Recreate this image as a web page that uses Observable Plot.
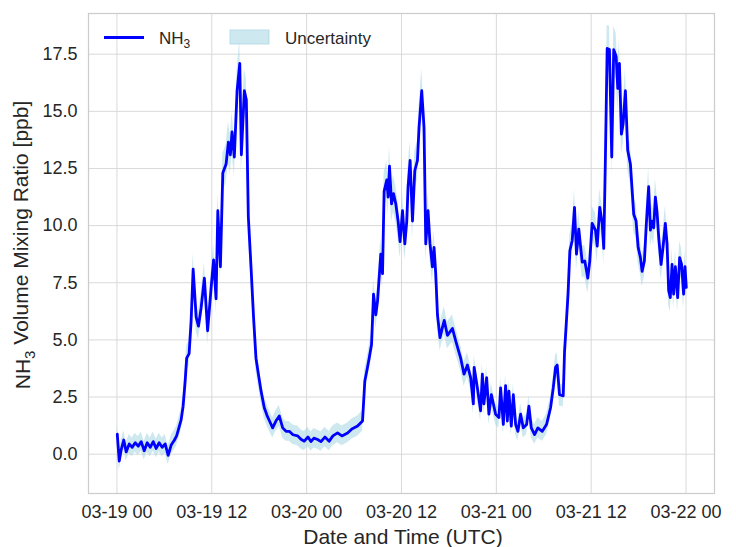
<!DOCTYPE html>
<html>
<head>
<meta charset="utf-8">
<script src="https://cdn.jsdelivr.net/npm/d3@7"></script>
<script src="https://cdn.jsdelivr.net/npm/@observablehq/plot@0.6"></script>
<style>
  html, body { margin: 0; padding: 0; background: #ffffff; }
  #chart { width: 736px; height: 547px; }
</style>
</head>
<body>
<div id="chart"></div>
<script>
// ---- data ----
const baseTime = Date.UTC(2023, 2, 19, 0, 0, 0); // 03-19 00 UTC
const hours = [
  0.04,0.29,0.54,0.86,1.17,1.55,1.93,2.31,2.69,3.07,3.45,3.83,4.21,4.59,4.96,5.34,5.72,6.10,6.48,6.86,
  7.24,7.55,7.87,8.12,8.37,8.63,8.82,9.13,9.38,9.64,10.02,10.31,10.65,11.06,11.47,11.97,12.23,12.54,12.76,13.09,
  13.39,13.81,14.10,14.35,14.56,14.85,15.20,15.54,15.74,16.12,16.37,16.62,16.96,17.28,17.59,17.85,18.23,18.64,18.98,19.30,
  19.70,20.11,20.54,20.97,21.39,21.80,22.27,22.86,23.28,23.70,24.17,24.54,24.92,25.39,25.81,26.31,26.85,27.32,27.91,28.46,
  29.18,29.72,30.44,31.07,31.36,31.70,31.91,32.21,32.46,32.75,32.97,33.38,33.60,33.80,34.14,34.31,34.48,34.74,34.99,35.28,
  35.57,35.82,36.13,36.42,36.67,36.83,37.09,37.39,37.68,38.02,38.22,38.56,38.85,39.07,39.36,39.61,39.91,40.12,40.33,40.55,
  40.87,41.18,41.41,41.81,42.44,42.86,43.24,43.49,43.91,44.34,44.75,45.09,45.19,45.60,46.01,46.23,46.43,46.77,47.06,47.37,
  47.91,48.33,48.54,48.88,49.17,49.39,49.59,49.89,50.15,50.44,50.73,51.07,51.41,51.83,52.12,52.42,52.84,53.25,53.81,54.35,
  54.86,55.20,55.49,55.70,55.99,56.46,56.63,56.82,57.07,57.30,57.60,57.89,58.14,58.43,58.86,59.19,59.57,59.82,60.12,60.54,
  60.76,61.08,61.39,61.59,61.80,62.02,62.31,62.60,62.85,63.16,63.36,63.57,63.82,64.04,64.33,64.62,64.96,65.38,65.68,65.94,
  66.23,66.44,66.73,66.98,67.27,67.49,67.70,67.91,68.12,68.33,68.54,68.84,69.09,69.38,69.60,69.80,70.01,70.23,70.43,70.65,
  70.94,71.19,71.44,71.69,71.87,72.03
];
const nh3 = [
  0.88,-0.3,0.2,0.62,0.1,0.45,0.3,0.5,0.35,0.55,0.15,0.5,0.3,0.55,0.25,0.5,0.3,0.45,-0.05,0.4,
  0.6,0.8,1.2,1.5,2.1,3.2,4.2,4.4,5.8,8.1,6.0,5.6,6.4,7.7,5.4,7.5,8.5,6.8,10.65,8.2,
  12.3,12.7,13.65,13.1,14.1,13.0,15.9,17.1,13.1,15.9,15.5,10.4,8.2,6.0,4.2,3.6,2.76,2.03,1.7,1.45,
  1.15,1.45,1.67,1.15,1.0,1.0,0.85,0.8,0.65,0.57,0.75,0.55,0.7,0.64,0.55,0.75,0.57,0.8,0.93,0.8,
  0.93,1.1,1.23,1.45,3.2,3.8,4.2,4.8,7.0,6.1,6.7,8.75,7.9,11.5,12.0,11.25,12.6,10.95,11.4,10.95,
  10.2,9.3,10.65,9.2,10.2,11.7,12.85,10.2,12.4,12.85,14.3,15.9,14.3,9.2,10.65,9.2,8.2,9.05,7.9,6.1,
  5.1,5.55,5.85,5.2,5.5,4.96,4.5,4.2,3.5,3.9,3.35,2.2,3.8,2.9,1.9,3.5,2.2,3.35,1.75,2.6,
  1.75,1.6,2.9,1.3,3.0,1.45,2.76,1.23,2.6,1.3,1.0,1.75,1.15,1.3,2.1,1.15,0.86,1.15,1.0,1.3,
  2.03,2.9,3.8,3.9,2.6,2.55,4.5,5.55,7.0,8.9,9.35,10.8,8.75,9.85,8.4,8.45,7.7,8.45,10.1,9.8,
  9.1,10.8,10.1,9.0,13.0,17.75,17.7,13.0,17.7,17.4,16.0,17.1,14.0,14.45,15.9,13.3,12.7,10.5,10.2,9.05,
  8.6,8.0,8.45,10.1,11.7,9.8,10.2,9.9,11.25,10.6,9.5,8.3,9.05,10.1,9.2,7.15,6.85,8.3,7.0,8.2,
  6.85,8.6,8.3,7.0,8.2,7.3
];
// measurement uncertainty (ppb): floor plus a fraction of the reading
const uncertaintyFloor = 0.4;
const uncertaintyFraction = 0.035;

const xTickHours = [0, 12, 24, 36, 48, 60, 72];
const xTickLabels = ["03-19 00", "03-19 12", "03-20 00", "03-20 12", "03-21 00", "03-21 12", "03-22 00"];
const yTicks = [0, 2.5, 5, 7.5, 10, 12.5, 15, 17.5];
const xDomainHours = [-3.6, 75.6];
const yDomain = [-1.72, 19.28];

// ---- build table ----
const toDate = h => new Date(baseTime + h * 3600e3);
const rows = hours.map((h, i) => {
  const v = nh3[i];
  const u = uncertaintyFloor + uncertaintyFraction * Math.abs(v);
  return {t: toDate(h), v, lo: v - u, hi: v + u};
});
const xTickDates = xTickHours.map(toDate);
const labelFor = d => xTickLabels[xTickDates.findIndex(t => +t === +d)];

const gridColor = "#d9d9d9";
const font = "'Liberation Sans', Arial, Helvetica, sans-serif";
const mLeft = 88, mRight = 22, mTop = 13, mBottom = 54;

const plot = Plot.plot({
  width: 736,
  height: 547,
  marginLeft: mLeft,
  marginRight: mRight,
  marginTop: mTop,
  marginBottom: mBottom,
  style: {fontFamily: font, fontSize: "18px", color: "#262626", background: "#ffffff", overflow: "visible"},
  x: {type: "utc", domain: xDomainHours.map(toDate), label: null},
  y: {domain: yDomain, label: null},
  marks: [
    Plot.gridX(xTickDates, {stroke: gridColor, strokeOpacity: 1, strokeWidth: 1}),
    Plot.gridY(yTicks, {stroke: gridColor, strokeOpacity: 1, strokeWidth: 1}),
    Plot.frame({stroke: "#cccccc", strokeWidth: 1.25}),
    Plot.areaY(rows, {x: "t", y1: "lo", y2: "hi", fill: "lightblue", fillOpacity: 0.6}),
    Plot.lineY(rows, {x: "t", y: "v", stroke: "#0000ff", strokeWidth: 2.8, strokeLinejoin: "round"}),
    Plot.axisX(xTickDates, {tickSize: 0, tickPadding: 12, tickFormat: labelFor, label: null, fontSize: 18, fill: "#262626"}),
    Plot.axisY(yTicks, {tickSize: 0, tickPadding: 11, tickFormat: d => d.toFixed(1), label: null, fontSize: 18, fill: "#262626"})
  ]
});

document.getElementById("chart").appendChild(plot);

// ---- axis titles and legend (text with subscripts) ----
const svg = d3.select(plot);
const pLeft = mLeft, pRight = 736 - mRight, pTop = mTop, pBottom = 547 - mBottom;

svg.append("text")
  .attr("x", (pLeft + pRight) / 2 + 2).attr("y", 544)
  .attr("text-anchor", "middle")
  .style("font-family", font).style("font-size", "21px").attr("fill", "#262626")
  .text("Date and Time (UTC)");

const yl = svg.append("text")
  .attr("transform", `translate(30,${(pTop + pBottom) / 2 - 8}) rotate(-90)`)
  .attr("text-anchor", "middle")
  .style("font-family", font).style("font-size", "21px").attr("fill", "#262626");
yl.append("tspan").text("NH");
yl.append("tspan").attr("dy", "0.3em").style("font-size", "15px").text("3");
yl.append("tspan").attr("dy", "-0.3em").text(" Volume Mixing Ratio [ppb]");

const lg = svg.append("g").style("font-family", font).style("font-size", "17px")
  .attr("fill", "#262626").attr("text-anchor", "start");
lg.append("line").attr("x1", 104).attr("x2", 144).attr("y1", 37.5).attr("y2", 37.5)
  .attr("stroke", "#0000ff").attr("stroke-width", 3);
const t1 = lg.append("text").attr("x", 159).attr("y", 44).attr("text-anchor", "start");
t1.append("tspan").text("NH");
t1.append("tspan").attr("dy", "0.3em").style("font-size", "12px").text("3");
lg.append("rect").attr("x", 230).attr("y", 30).attr("width", 39).attr("height", 14)
  .attr("fill", "lightblue").attr("fill-opacity", 0.6).attr("stroke", "lightblue").attr("stroke-opacity", 0.8);
lg.append("text").attr("x", 285).attr("y", 44).attr("text-anchor", "start").text("Uncertainty");
</script>
</body>
</html>
